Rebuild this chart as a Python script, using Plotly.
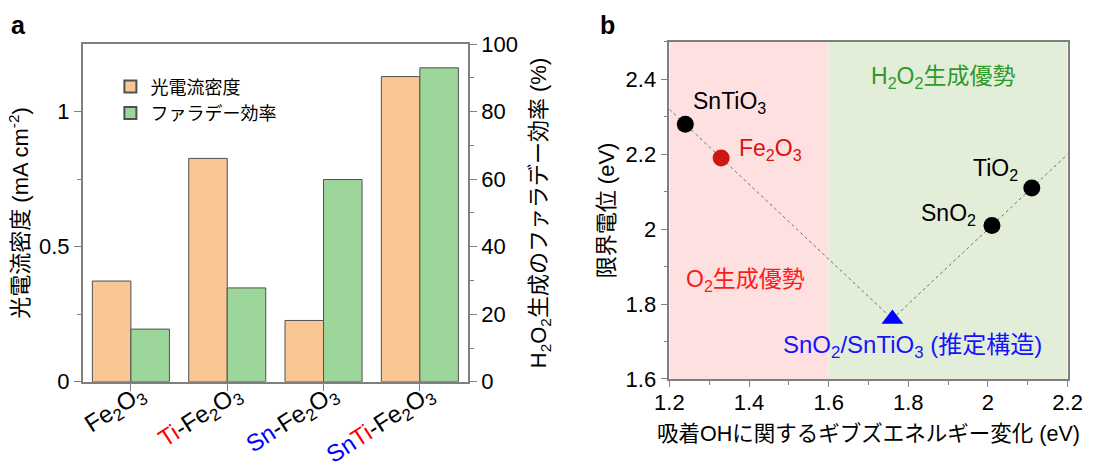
import plotly.graph_objects as go

# ---------------- data: panel a ----------------
samples = ["Fe2O3", "Ti-Fe2O3", "Sn-Fe2O3", "SnTi-Fe2O3"]
sample_labels = [
    "Fe<sub>2</sub>O<sub>3</sub>",
    "<span style='color:#FF0000'>Ti</span>-Fe<sub>2</sub>O<sub>3</sub>",
    "<span style='color:#0000FF'>Sn</span>-Fe<sub>2</sub>O<sub>3</sub>",
    "<span style='color:#0000FF'>Sn</span><span style='color:#FF0000'>Ti</span>-Fe<sub>2</sub>O<sub>3</sub>",
]
photocurrent = [0.373, 0.827, 0.227, 1.13]      # mA cm^-2
faradaic_eff = [15.6, 27.8, 59.9, 93.0]         # %

# ---------------- data: panel b ----------------
mat_names = ["SnTiO3", "Fe2O3", "SnO2", "TiO2"]
mat_dG = [1.24, 1.33, 2.01, 2.11]
mat_U = [2.28, 2.19, 2.01, 2.11]
mat_colors = ["#000000", "#D01515", "#000000", "#000000"]
mat_labels = ["SnTiO<sub>3</sub>", "Fe<sub>2</sub>O<sub>3</sub>", "SnO<sub>2</sub>", "TiO<sub>2</sub>"]
mat_label_x = [1.35, 1.455, 1.90, 2.02]
mat_label_y = [2.338, 2.213, 2.04, 2.16]
mat_label_colors = ["#000000", "#E01010", "#000000", "#000000"]

pred_dG = [1.76]
pred_U = [1.76]

guide_x = [1.2, 1.76, 2.2]
guide_y = [2.32, 1.76, 2.2]

region_edges = [1.2, 1.6, 2.2]
region_colors = ["#FFE0E0", "#E3EED9"]

FONT = "Arial, 'Liberation Sans', 'Noto Sans CJK JP', sans-serif"
AX = "#7F7F7F"

fig = go.Figure()

fig.add_trace(go.Bar(
    x=samples, y=photocurrent, name="光電流密度",
    marker=dict(color="#F9C794", line=dict(color="#505050", width=1)),
    offsetgroup="pc", xaxis="x", yaxis="y",
))
fig.add_trace(go.Bar(
    x=samples, y=faradaic_eff, name="ファラデー効率",
    marker=dict(color="#9DD69A", line=dict(color="#505050", width=1)),
    offsetgroup="fe", xaxis="x", yaxis="y2",
))

# panel b
fig.add_trace(go.Scatter(
    x=guide_x, y=guide_y, mode="lines",
    line=dict(color="#707070", width=1, dash="dot"),
    xaxis="x2", yaxis="y3", showlegend=False, hoverinfo="skip",
))
fig.add_trace(go.Scatter(
    x=mat_dG, y=mat_U, mode="markers",
    marker=dict(size=17, color=mat_colors),
    xaxis="x2", yaxis="y3", showlegend=False,
))
fig.add_trace(go.Scatter(
    x=pred_dG, y=pred_U, mode="markers",
    marker=dict(size=19, color="#0000FF", symbol="triangle-up"),
    xaxis="x2", yaxis="y3", showlegend=False,
))

shapes = []
for i in range(len(region_colors)):
    shapes.append(dict(
        type="rect", xref="x2", yref="y3 domain",
        x0=region_edges[i], x1=region_edges[i + 1], y0=0, y1=1,
        fillcolor=region_colors[i], line=dict(width=0), layer="below",
    ))

ANN = 23
annotations = []
for lx, ly, lt, lc in zip(mat_label_x, mat_label_y, mat_labels, mat_label_colors):
    annotations.append(dict(
        x=lx, y=ly, xref="x2", yref="y3", text=lt, showarrow=False,
        font=dict(size=ANN, color=lc, family=FONT),
    ))
annotations += [
    dict(x=1.888, y=2.405, xref="x2", yref="y3",
         text="H<sub>2</sub>O<sub>2</sub>生成優勢", showarrow=False,
         font=dict(size=ANN, color="#2E9A2E", family=FONT)),
    dict(x=1.392, y=1.862, xref="x2", yref="y3",
         text="O<sub>2</sub>生成優勢", showarrow=False,
         font=dict(size=ANN, color="#FF1A1A", family=FONT)),
    dict(x=1.81, y=1.686, xref="x2", yref="y3",
         text="SnO<sub>2</sub>/SnTiO<sub>3</sub> (推定構造)", showarrow=False,
         font=dict(size=24, color="#1414FF", family=FONT)),
    dict(x=18 / 1093, y=1 - 25 / 465, xref="paper", yref="paper",
         text="<b>a</b>", showarrow=False, xanchor="center", yanchor="middle",
         font=dict(size=25, color="#000000", family=FONT)),
    dict(x=607 / 1093, y=1 - 25 / 465, xref="paper", yref="paper",
         text="<b>b</b>", showarrow=False, xanchor="center", yanchor="middle",
         font=dict(size=25, color="#000000", family=FONT)),
]

tickfont = dict(size=22, color="#000000", family=FONT)
titlefont = dict(size=22, color="#000000", family=FONT)

fig.update_layout(
    width=1093, height=465,
    margin=dict(l=0, r=0, t=0, b=0),
    paper_bgcolor="white", plot_bgcolor="rgba(0,0,0,0)",
    font=dict(family=FONT, color="#000000"),
    barmode="group", bargap=0.2, bargroupgap=0,
    shapes=shapes, annotations=annotations,
    legend=dict(
        x=0.101, y=0.853, xanchor="left", yanchor="top",
        bgcolor="rgba(0,0,0,0)", font=dict(size=18, family=FONT),
        tracegroupgap=0, itemsizing="constant",
    ),
    xaxis=dict(
        domain=[0.0757, 0.4282], anchor="y", range=[-0.5, 3.5], automargin=False,
        tickmode="array", tickvals=samples, ticktext=sample_labels,
        tickangle=-33, ticks="outside", ticklen=7, tickcolor=AX,
        ticklabelstandoff=-20, ticklabelshift=9,
        showline=True, linecolor=AX, linewidth=1.5, mirror=True,
        showgrid=False, zeroline=False,
        tickfont=dict(size=24, color="#000000", family=FONT),
    ),
    yaxis=dict(
        domain=[0.179, 0.905], anchor="x", range=[0, 1.25], automargin=False,
        tickmode="array", tickvals=[0, 0.5, 1], ticktext=["0", "0.5", "1"],
        ticks="outside", ticklen=7, tickcolor=AX,
        minor=dict(tickvals=[0.25, 0.75], ticks="outside", ticklen=4, tickcolor=AX),
        showline=True, linecolor=AX, linewidth=1.5,
        showgrid=False, zeroline=False, tickfont=tickfont,
        title=dict(text="光電流密度 (mA cm<sup>-2</sup>)", font=titlefont, standoff=4),
    ),
    yaxis2=dict(
        overlaying="y", side="right", anchor="x", range=[0, 100], automargin=False,
        tickmode="linear", tick0=0, dtick=20,
        ticks="outside", ticklen=7, tickcolor=AX,
        minor=dict(dtick=10, ticks="outside", ticklen=4, tickcolor=AX),
        showline=True, linecolor=AX, linewidth=1.5,
        showgrid=False, zeroline=False, tickfont=tickfont,
        title=dict(text="H<sub>2</sub>O<sub>2</sub>生成のファラデー効率 (%)", font=titlefont, standoff=14),
    ),
    xaxis2=dict(
        domain=[0.6124, 0.9768], anchor="y3", range=[1.2, 2.2], automargin=False,
        tickmode="linear", tick0=1.2, dtick=0.2,
        ticks="outside", ticklen=6, tickcolor=AX, ticklabelstandoff=-3,
        minor=dict(dtick=0.1, ticks="outside", ticklen=4, tickcolor=AX),
        showline=True, linecolor=AX, linewidth=1.5, mirror=True,
        showgrid=False, zeroline=False, tickfont=tickfont,
        title=dict(text="吸着OHに関するギブズエネルギー変化 (eV)",
                   font=dict(size=21.5, color="#000000", family=FONT), standoff=12),
    ),
    yaxis3=dict(
        domain=[0.185, 0.910], anchor="x2", range=[1.6, 2.5], automargin=False,
        tickmode="linear", tick0=1.6, dtick=0.2,
        ticks="outside", ticklen=7, tickcolor=AX,
        minor=dict(dtick=0.1, ticks="outside", ticklen=4, tickcolor=AX),
        showline=True, linecolor=AX, linewidth=1.5, mirror=True,
        showgrid=False, zeroline=False, tickfont=tickfont,
        title=dict(text="限界電位 (eV)", font=titlefont, standoff=5),
    ),
)

fig.write_html("out.html",
               config={"displayModeBar": False},
               post_script="document.body.style.margin='0px';document.body.style.overflow='hidden';")
